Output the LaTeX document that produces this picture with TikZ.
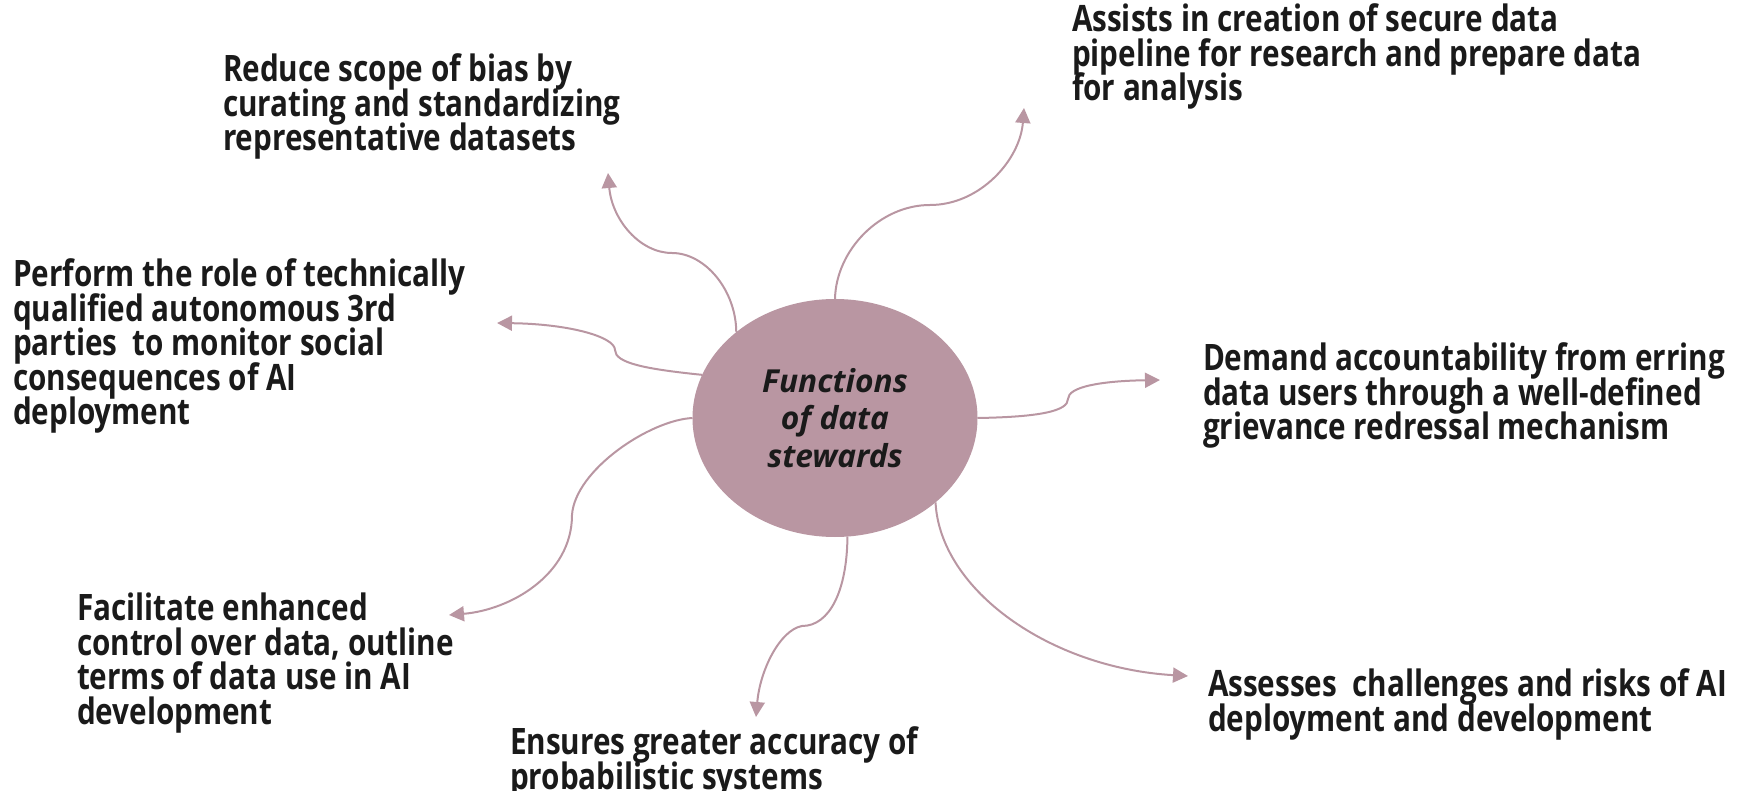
\documentclass[tikz,border=0pt]{standalone}
\usepackage{fontspec}
\setmainfont{Open Sans}[FakeStretch=0.815]
\newfontfamily\hubfont{Open Sans}
\usetikzlibrary{arrows.meta,shapes.geometric}
\definecolor{mauve}{HTML}{B996A2}
\definecolor{ink}{HTML}{1A1A1A}
\newcommand\itemfont{\bfseries\fontsize{36.4}{34.5}\selectfont\lineskiplimit=-100pt}

\begin{document}
\begin{tikzpicture}[x=1pt,y=-1pt,
  item/.style={anchor=north west,inner sep=0pt,outer sep=0pt,align=left,text=ink,font=\itemfont},
  link/.style={draw=mauve,line width=2pt,-{Triangle[length=15pt,width=15pt]}}]
  \useasboundingbox (0,0) rectangle (1743,791);
  \node[ellipse,fill=mauve,minimum width=285pt,minimum height=238pt,inner sep=0pt,outer sep=0pt,
    align=center,text=ink,font=\hubfont\bfseries\itshape\fontsize{31.7}{37.5}\selectfont](hub) at (835,418)
    {Functions\\of data\\stewards};
  % texts, placed by the top of their first line
  \node[item](bias) at (223,54) {Reduce scope of bias by\\curating and standardizing\\representative datasets};
  \node[item](pipeline) at (1072,4) {Assists in creation of secure data\\pipeline for research and prepare data\\for analysis};
  \node[item](oversight) at (13,259) {Perform the role of technically\\qualified autonomous 3rd\\parties\ \ to monitor social\\consequences of AI\\deployment};
  \node[item](accountability) at (1203,343) {Demand accountability from erring\\data users through a well-defined\\grievance redressal mechanism};
  \node[item](control) at (77,593) {Facilitate enhanced\\control over data, outline\\terms of data use in AI\\development};
  \node[item](accuracy) at (510,727) {Ensures greater accuracy of\\probabilistic systems};
  \node[item](risks) at (1208,669) {Assesses\ \ challenges and risks of AI\\deployment and development};
  % arrow tips
  \coordinate(biasTip) at (608,173);
  \coordinate(pipelineTip) at (1024,108);
  \coordinate(oversightTip) at (497,323);
  \coordinate(accountabilityTip) at (1160,380);
  \coordinate(controlTip) at (449,615);
  \coordinate(accuracyTip) at (756,717);
  \coordinate(risksTip) at (1188,676);
  % curved connectors out of the hub
  \draw[link](hub.139) .. controls (736,290) and (705,253) .. (672,253) .. controls (640,253) and (612,220) .. (biasTip);
  \draw[link](hub.90) .. controls (836,250) and (880,205) .. (930,205) .. controls (980,205) and (1020,160) .. (pipelineTip);
  \draw[link](hub.162) .. controls (645,369) and (615,363) .. (615,350) .. controls (615,337) and (570,324) .. (oversightTip);
  \draw[link](hub.0) .. controls (1040,417) and (1068,411) .. (1068,399) .. controls (1068,387) and (1100,381) .. (accountabilityTip);
  \draw[link](hub.180) .. controls (650,420) and (575,470) .. (572,515) .. controls (572,575) and (510,610) .. (controlTip);
  \draw[link](hub.276) .. controls (847,590) and (830,626) .. (802,626) .. controls (780,630) and (760,670) .. (accuracyTip);
  \draw[link](hub.320) .. controls (940,590) and (1050,668) .. (risksTip);
\end{tikzpicture}
\end{document}
